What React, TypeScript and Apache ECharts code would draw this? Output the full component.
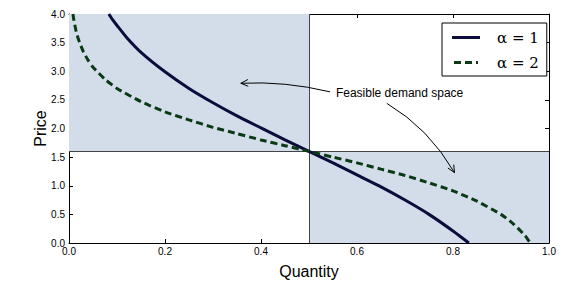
import React, { useEffect, useRef } from "react";
import * as echarts from "echarts";

const alpha1Q = [0.083, 0.09, 0.1, 0.12, 0.15, 0.2, 0.25, 0.3, 0.35, 0.4, 0.45, 0.5, 0.55, 0.6, 0.65, 0.7, 0.75, 0.8, 0.833];
const alpha1P = [4.0, 3.91, 3.80, 3.59, 3.33, 2.99, 2.70, 2.45, 2.22, 2.01, 1.80, 1.60, 1.40, 1.19, 0.98, 0.75, 0.50, 0.21, 0.0];

const alpha2Q = [0.0082, 0.01, 0.015, 0.02, 0.03, 0.04, 0.05, 0.075, 0.1, 0.15, 0.2, 0.25, 0.3, 0.35, 0.4, 0.45, 0.5, 0.55, 0.6, 0.65, 0.7, 0.75, 0.8, 0.85, 0.9, 0.925, 0.95, 0.9608];
const alpha2P = [4.0, 3.90, 3.69, 3.55, 3.34, 3.19, 3.07, 2.86, 2.70, 2.47, 2.29, 2.15, 2.02, 1.91, 1.80, 1.70, 1.60, 1.50, 1.40, 1.29, 1.18, 1.05, 0.91, 0.73, 0.50, 0.34, 0.13, 0.0];

const seriesNames = ["\u03b1 = 1", "\u03b1 = 2"];
const splitQ = 0.5;
const splitP = 1.6;
const annotationText = "Feasible demand space";

export default function App() {
  const ref = useRef<HTMLDivElement>(null);
  useEffect(() => {
    if (!ref.current) return;
    document.body.style.margin = "0";
    const chart = echarts.init(ref.current, undefined, { renderer: "svg" });
    const sans = "Liberation Sans";
    const axisCommon = {
      type: "value" as const,
      axisLine: { show: true, onZero: false, lineStyle: { color: "#000", width: 1 } },
      axisTick: { show: true, inside: true, length: 4, lineStyle: { color: "#000" } },
      splitLine: { show: false },
    };
    chart.setOption({
      animation: false,
      grid: { left: 69, right: 32, top: 14, bottom: 48 },
      xAxis: [
        {
          ...axisCommon,
          min: 0, max: 1, interval: 0.2,
          name: "Quantity", nameLocation: "middle", nameGap: 20,
          nameTextStyle: { fontFamily: sans, fontSize: 16, color: "#000" },
          axisLabel: { fontFamily: sans, fontSize: 10, color: "#000", margin: 3, formatter: (v: number) => v.toFixed(1) },
        },
        {
          ...axisCommon, position: "top",
          min: 0, max: 1, interval: 0.2,
          axisLabel: { show: false },
        },
      ],
      yAxis: [
        {
          ...axisCommon,
          min: 0, max: 4, interval: 0.5,
          name: "Price", nameLocation: "middle", nameGap: 21,
          nameMoveOverlap: false,
          nameTextStyle: { fontFamily: sans, fontSize: 16, color: "#000" },
          axisLabel: { fontFamily: sans, fontSize: 10, color: "#000", margin: 4, formatter: (v: number) => v.toFixed(1) },
        },
        {
          ...axisCommon, position: "right",
          min: 0, max: 4, interval: 0.5,
          axisLabel: { show: false },
        },
      ],
      legend: {
        orient: "vertical",
        left: 442, top: 23,
        padding: [7, 8, 6, 10],
        itemGap: 10,
        itemWidth: 28,
        itemHeight: 3,
        borderColor: "#000",
        borderWidth: 1,
        borderRadius: 0,
        backgroundColor: "#fff",
        textStyle: { fontFamily: "DejaVu Serif", fontSize: 15, fontWeight: "normal", color: "#000", padding: [0, 0, 0, 12] },
        data: [
          { name: seriesNames[0], icon: "rect" },
          { name: seriesNames[1], icon: "path://M0,0h7v3h-7z M11,0h7v3h-7z M22,0h2v3h-2z" },
        ],
      },
      series: [
        {
          type: "line",
          name: "shade",
          data: [],
          silent: true,
          markArea: {
            silent: true,
            itemStyle: { color: "#d3dde9" },
            data: [
              [{ coord: [0, splitP] }, { coord: [splitQ, 4] }],
              [{ coord: [splitQ, 0] }, { coord: [1, splitP] }],
            ],
          },
          markLine: {
            silent: true,
            symbol: "none",
            label: { show: false },
            lineStyle: { color: "#444", width: 1, type: "solid" },
            data: [{ xAxis: splitQ }, { yAxis: splitP }],
          },
        },
        {
          type: "line",
          name: seriesNames[0],
          data: alpha1Q.map((q, i) => [q, alpha1P[i]]),
          symbol: "none",
          smooth: 0.2,
          lineStyle: { color: "#0c0c3c", width: 3 },
          itemStyle: { color: "#0c0c3c" },
          z: 5,
        },
        {
          type: "line",
          name: seriesNames[1],
          data: alpha2Q.map((q, i) => [q, alpha2P[i]]),
          symbol: "none",
          smooth: 0.2,
          lineStyle: { color: "#0a3a14", width: 3, type: [7, 4] },
          itemStyle: { color: "#0a3a14" },
          z: 5,
        },
      ],
    });

    const px = (q: number, p: number) => chart.convertToPixel({ gridIndex: 0 }, [q, p]) as number[];
    const arrow = (start: number[], ctrl: number[], tip: number[]) => {
      const dx = tip[0] - ctrl[0];
      const dy = tip[1] - ctrl[1];
      const len = Math.sqrt(dx * dx + dy * dy);
      const ux = dx / len, uy = dy / len;
      const a = (25 * Math.PI) / 180;
      const L = 8;
      const rot = (ang: number) => [
        tip[0] - L * (ux * Math.cos(ang) - uy * Math.sin(ang)),
        tip[1] - L * (ux * Math.sin(ang) + uy * Math.cos(ang)),
      ];
      return [
        {
          type: "bezierCurve",
          shape: { x1: start[0], y1: start[1], x2: tip[0], y2: tip[1], cpx1: ctrl[0], cpy1: ctrl[1] },
          style: { stroke: "#000", lineWidth: 1, fill: "none" },
          z: 20,
        },
        {
          type: "polyline",
          shape: { points: [rot(a), tip, rot(-a)] },
          style: { stroke: "#000", lineWidth: 1, fill: "none" },
          z: 20,
        },
      ];
    };
    const textPos = px(0.556, 2.62);
    chart.setOption({
      graphic: [
        {
          type: "text",
          x: textPos[0], y: textPos[1],
          style: { text: annotationText, font: "12px 'Liberation Sans'", fill: "#000", textVerticalAlign: "middle" },
          z: 20,
        },
        ...arrow(px(0.544, 2.64), px(0.45, 2.83), px(0.358, 2.79)),
        ...arrow(px(0.662, 2.44), px(0.75, 2.0), px(0.803, 1.23)),
      ],
    });
    return () => chart.dispose();
  }, []);
  return <div ref={ref} style={{ width: 581, height: 291 }} />;
}
